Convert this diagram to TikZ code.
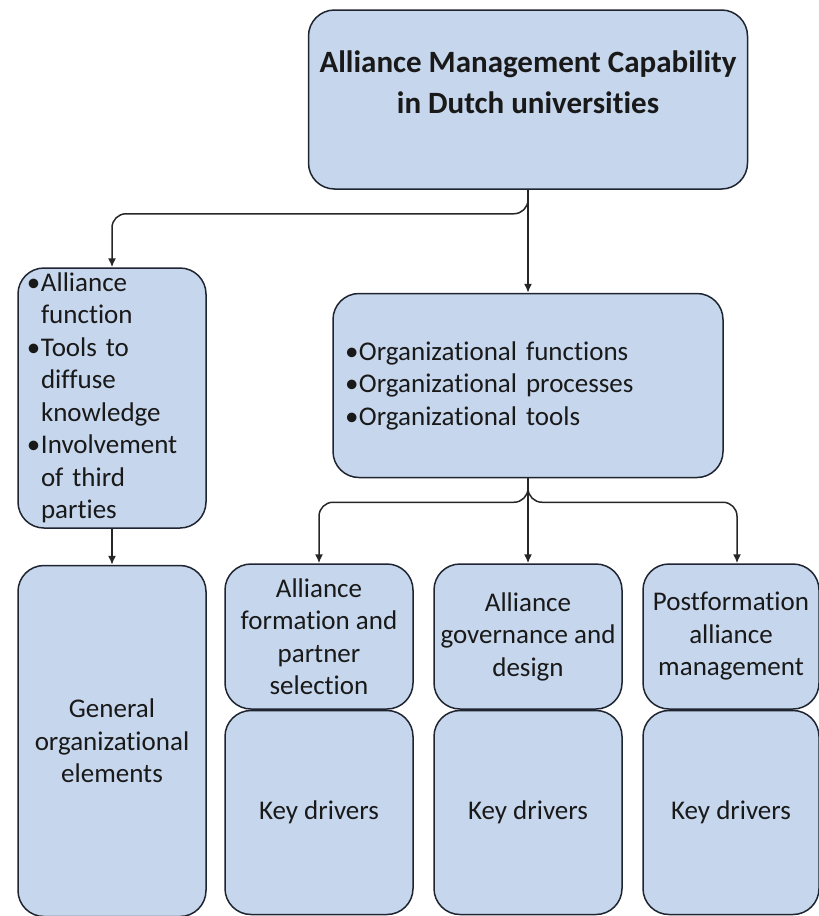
\documentclass[tikz,border=0pt]{standalone}
\usepackage{fontspec}
\setmainfont{Carlito}[Ligatures=NoCommon]
\usepackage{xcolor}
\usetikzlibrary{arrows.meta,positioning}

\definecolor{boxfill}{RGB}{198,214,236}
\definecolor{boxline}{RGB}{30,36,48}
\newcommand{\itm}{\makebox[14pt][l]{\textbullet}}
\newcommand{\hang}{\hspace*{14pt}}

\begin{document}
\begin{tikzpicture}[x=1pt, y=1pt,
  box/.style={rectangle, rounded corners=26pt, draw=boxline, fill=boxfill,
              line width=1.5pt, align=center, inner sep=4pt,
              minimum width=188pt, text=black!90,
              font=\fontsize{27}{32.5}\selectfont},
  head/.style={align=center, text=black!90,
               font=\fontsize{31}{41}\selectfont\bfseries},
  arr/.style={-{Latex[length=9pt,width=8pt]}, line width=1.5pt, draw=black!85}]
  \useasboundingbox (0,0) rectangle (819,-916);
  % top of the tree
  \node[box, minimum width=439pt, minimum height=179pt] (top) at (528,-99.5) {};
  \node[head] (toptext) at ([yshift=17pt]top.center)
    {Alliance Management Capability\\in Dutch universities};
  \node[box, minimum height=184pt, text width=366pt, inner xsep=12pt,
        align=left, below=103pt of top] (mid)
    {\itm Organizational functions\\\itm Organizational processes\\\itm Organizational tools};
  % left column
  \node[box, minimum height=260pt, text width=170pt, inner xsep=9pt,
        inner ysep=1pt, align=left] (lbox) at (112,-398)
    {\itm Alliance\\\hang function\\\itm Tools to\\\hang diffuse\\\hang knowledge\\
     \itm Involvement\\\hang of third\\\hang parties};
  \node[box, minimum height=351pt, below=36pt of lbox] (gen)
    {General\\organizational\\elements};
  % the three phases with their drivers
  \node[box, minimum height=145pt] (f1) at (319,-636.5)
    {Alliance\\formation and\\partner\\selection};
  \node[box, minimum height=145pt, right=19.5pt of f1] (f2)
    {Alliance\\governance and\\design};
  \node[box, minimum height=145pt, minimum width=176pt, inner xsep=1pt,
        right=19.5pt of f2] (f3)
    {Postformation\\alliance\\management};
  \node[box, minimum height=204pt, below=0pt of f1] (k1) {Key drivers};
  \node[box, minimum height=204pt, below=0pt of f2] (k2) {Key drivers};
  \node[box, minimum height=204pt, minimum width=176pt, below=0pt of f3] (k3) {Key drivers};
  % connectors
  \draw[arr, rounded corners=14pt] (top.south) -- ++(0,-24) -| (lbox.north);
  \draw[arr] (top.south) -- (mid.north);
  \draw[arr] (lbox.south) -- (gen.north);
  \draw[arr, rounded corners=14pt] (mid.south) -- ++(0,-24) -| (f1.north);
  \draw[arr, rounded corners=14pt] (mid.south) -- ++(0,-24) -| ([xshift=6pt]f3.north);
  \draw[arr] (mid.south) -- (f2.north);
\end{tikzpicture}
\end{document}
